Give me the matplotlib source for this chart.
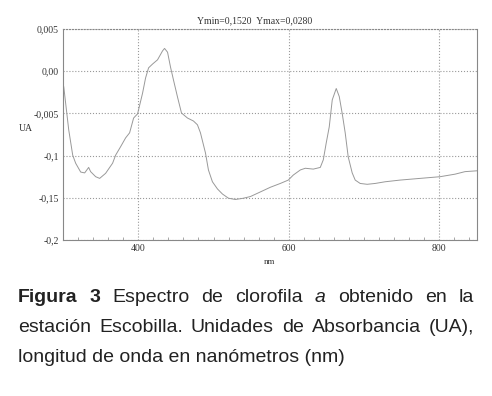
import matplotlib
matplotlib.use("Agg")
import matplotlib.pyplot as plt
import numpy as np

# espectro (nm, posición en unidades de la escala del eje)
nm = [301, 307.6, 312.9, 316.8, 323.5, 328.8, 334.1, 336.7, 343.4, 348.7,
      356.6, 365.9, 369.9, 376.5, 383.2, 388.5, 393.8, 399.1, 405.7, 409.7,
      413.7, 419.0, 425.6, 432.2, 434.9, 438.9, 442.8, 446.8, 452.1, 457.4,
      465.4, 473.3, 478.6, 482.6, 489.3, 493.2, 498.5, 505.2, 511.8, 519.8,
      529.0, 539.7, 549.0, 562.3, 575.5, 588.7, 599.3, 606.0, 615.3, 621.9,
      632.5, 641.8, 645.8, 649.7, 653.7, 657.7, 663.0, 667.0, 671.0, 674.9,
      678.9, 684.2, 688.2, 694.8, 704.1, 714.7, 728.0, 747.9, 774.4, 800.9,
      820.8, 834.1, 850]
ua = [3.63, 2.61, 2.01, 1.82, 1.61, 1.59, 1.72, 1.62, 1.50, 1.46,
      1.58, 1.82, 2.01, 2.21, 2.42, 2.54, 2.89, 2.99, 3.48, 3.84,
      4.08, 4.17, 4.27, 4.48, 4.54, 4.45, 4.10, 3.79, 3.39, 3.01,
      2.89, 2.82, 2.73, 2.54, 2.06, 1.66, 1.38, 1.21, 1.09, 0.99,
      0.96, 0.99, 1.03, 1.14, 1.25, 1.34, 1.42, 1.54, 1.66, 1.70,
      1.68, 1.72, 1.90, 2.30, 2.68, 3.32, 3.59, 3.40, 2.99, 2.54,
      1.97, 1.59, 1.42, 1.34, 1.32, 1.34, 1.38, 1.42, 1.46, 1.50,
      1.56, 1.62, 1.64]

x_ticks = [400, 600, 800]
y_labels = ["-0,2", "-0,15", "-0,1", "-0,005", "0,00", "0,005"]

serif = "Liberation Serif"
sans = "Liberation Sans"

fig = plt.figure(figsize=(4.92, 3.96), dpi=100)
ax = fig.add_axes([63/492, 1-240/396, 414/492, 211/396])

ax.plot(nm, ua, color="#999999", lw=0.7)
ax.set_xlim(300, 850)
ax.set_ylim(0, 5)
ax.set_xticks(x_ticks)
ax.set_xticks(np.arange(320, 850, 20), minor=True)
ax.set_yticks(range(len(y_labels)))
ax.set_yticklabels(y_labels)
ax.tick_params(length=0, pad=3, labelsize=7, labelcolor="#333333")
ax.tick_params(axis="x", which="minor", direction="in", length=2, color="#999999")
for lab in ax.get_xticklabels() + ax.get_yticklabels():
    lab.set_family(serif)
ax.grid(True, color="#999999", ls=":", lw=0.8)
for s in ax.spines.values():
    s.set_color("#888888")
    s.set_linewidth(0.8)
ax.spines["top"].set_linestyle(":")

fig.text(255/492, 1-21/396, "Ymin=0,1520  Ymax=0,0280", ha="center", va="center",
         fontsize=7, family=serif, color="#333333")
fig.text(26/492, 1-128/396, "UA", ha="center", va="center", fontsize=7,
         family=serif, color="#333333")
fig.text(269/492, 1-262/396, "nm", ha="center", va="center", fontsize=6.5,
         family=serif, color="#333333")

# pie de figura justificado
fs = 14
line1 = [("Figura", "bold", "normal"), ("3", "bold", "normal"),
         ("Espectro", "normal", "normal"), ("de", "normal", "normal"),
         ("clorofila", "normal", "normal"), ("a", "normal", "italic"),
         ("obtenido", "normal", "normal"), ("en", "normal", "normal"),
         ("la", "normal", "normal")]
line2 = [(w, "normal", "normal") for w in
         "estación Escobilla. Unidades de Absorbancia (UA),".split()]
line3 = "longitud de onda en nanómetros (nm)"

x0, x1 = 18, 474

def justify(words, ypix):
    texts = [fig.text(0, 1-ypix/396, w, fontsize=fs, family=sans, weight=wt,
                      style=st, va="center", color="#222222")
             for w, wt, st in words]
    fig.canvas.draw()
    r = fig.canvas.get_renderer()
    widths = [t.get_window_extent(r).width for t in texts]
    gap = (x1 - x0 - sum(widths)) / (len(words) - 1)
    x = x0
    for t, w in zip(texts, widths):
        t.set_x(x/492)
        x += w + gap

justify(line1, 298)
justify(line2, 328)
fig.text(x0/492, 1-358/396, line3, fontsize=fs, family=sans, va="center",
         color="#222222")

fig.savefig("out.png", dpi=100)
